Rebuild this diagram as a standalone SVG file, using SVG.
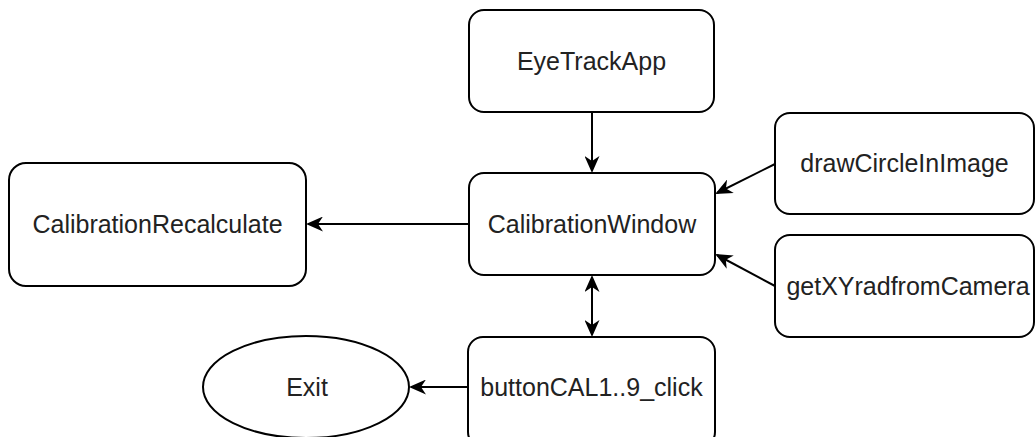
<svg xmlns="http://www.w3.org/2000/svg" width="1036" height="437" viewBox="0 0 1036 437">
  <style>
    .box { fill: #ffffff; stroke: #000000; stroke-width: 2; }
    .label { font-family: "Liberation Sans", Arial, sans-serif; font-size: 25px; fill: #222222; text-anchor: middle; }
    .edge { fill: none; stroke: #000000; stroke-width: 2; }
  </style>
  <defs>
    <marker id="arrow" viewBox="0 0 17 15" refX="15" refY="7.5" markerWidth="17" markerHeight="15" markerUnits="userSpaceOnUse" orient="auto-start-reverse">
      <path d="M0,0 L17,7.5 L0,15 L5,7.5 Z" fill="#000000"/>
    </marker>
  </defs>
  <rect width="1036" height="437" fill="#ffffff"/>

  <g id="connectors">
    <line class="edge" x1="592" y1="112" x2="592" y2="171" marker-end="url(#arrow)"/>
    <line class="edge" x1="469" y1="224" x2="308" y2="224" marker-end="url(#arrow)"/>
    <line class="edge" x1="775" y1="164" x2="717" y2="193" marker-end="url(#arrow)"/>
    <line class="edge" x1="775" y1="286" x2="717" y2="255" marker-end="url(#arrow)"/>
    <line class="edge" x1="592" y1="277" x2="592" y2="335" marker-start="url(#arrow)" marker-end="url(#arrow)"/>
    <line class="edge" x1="468" y1="387" x2="411" y2="387" marker-end="url(#arrow)"/>
  </g>

  <g id="EyeTrackApp">
    <rect class="box" x="469" y="10" width="245" height="102" rx="15" ry="15"/>
    <text class="label" x="591.5" y="70">EyeTrackApp</text>
  </g>

  <g id="CalibrationWindow">
    <rect class="box" x="469" y="173" width="246" height="102" rx="15" ry="15"/>
    <text class="label" x="592" y="233">CalibrationWindow</text>
  </g>

  <g id="CalibrationRecalculate">
    <rect class="box" x="9" y="163" width="297" height="123" rx="17" ry="17"/>
    <text class="label" x="157.5" y="233">CalibrationRecalculate</text>
  </g>

  <g id="drawCircleInImage">
    <rect class="box" x="775" y="113" width="259" height="101" rx="15" ry="15"/>
    <text class="label" x="904.5" y="172">drawCircleInImage</text>
  </g>

  <g id="getXYradfromCamera">
    <rect class="box" x="775" y="235" width="259" height="102" rx="15" ry="15"/>
    <text class="label" x="908" y="295">getXYradfromCamera</text>
  </g>

  <g id="buttonCAL1_9_click">
    <rect class="box" x="468" y="337" width="247" height="110" rx="15" ry="15"/>
    <text class="label" x="591.5" y="396">buttonCAL1..9_click</text>
  </g>

  <g id="Exit">
    <ellipse class="box" cx="306" cy="387" rx="103" ry="51"/>
    <text class="label" x="307" y="396">Exit</text>
  </g>
</svg>
